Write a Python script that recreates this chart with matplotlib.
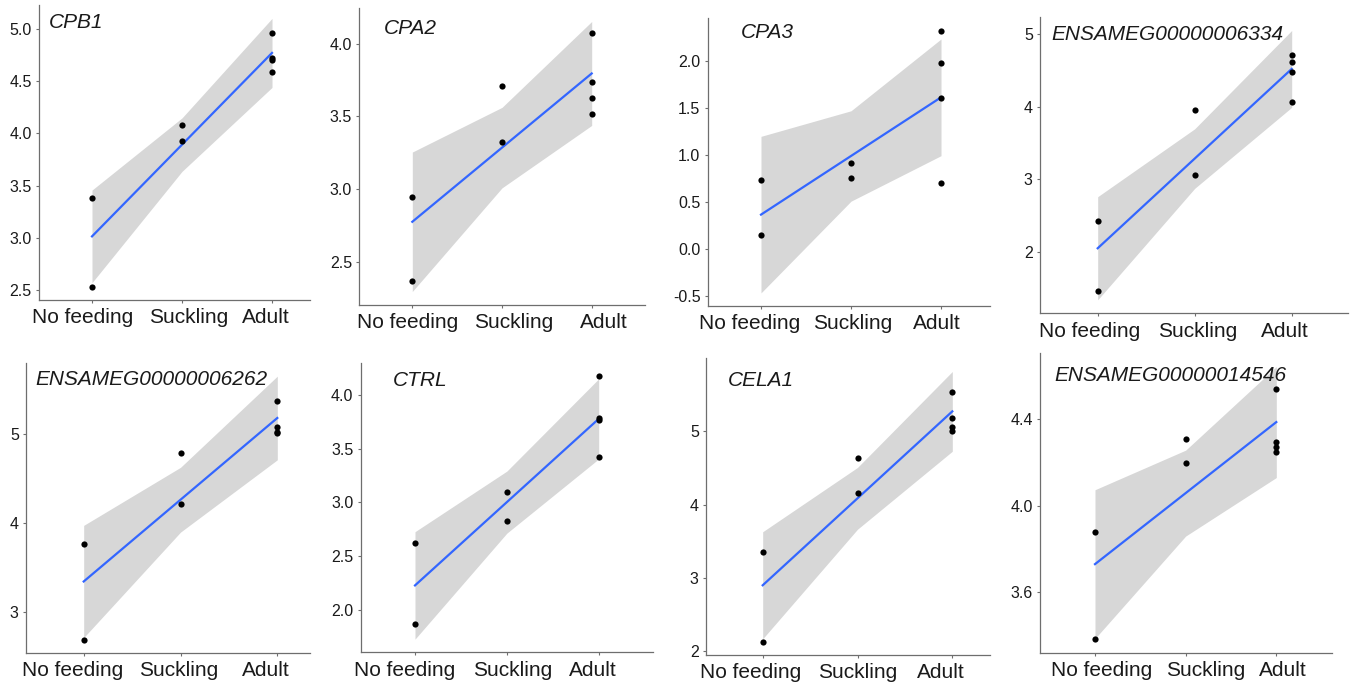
import numpy as np
import matplotlib
matplotlib.use("Agg")
import matplotlib.pyplot as plt
from matplotlib.transforms import ScaledTranslation

plt.rcParams['font.family'] = ['Liberation Sans', 'DejaVu Sans']

# ---------------- data ----------------
groups = ["No feeding", "Suckling", "Adult"]
genes = ["CPB1", "CPA2", "CPA3", "ENSAMEG00000006334",
         "ENSAMEG00000006262", "CTRL", "CELA1", "ENSAMEG00000014546"]

# group index of each sample (1 = No feeding, 2 = Suckling, 3 = Adult)
sample_group = [1, 1, 2, 2, 3, 3, 3, 3]

cpb1 = [3.385, 2.535, 4.080, 3.927, 4.962, 4.720, 4.700, 4.589]
cpa2 = [2.950, 2.374, 3.709, 3.326, 4.071, 3.736, 3.624, 3.516]
cpa3 = [0.729, 0.148, 0.915, 0.757, 2.313, 1.975, 1.599, 0.700]
ens6334 = [2.426, 1.455, 3.950, 3.060, 4.707, 4.615, 4.478, 4.069]
ens6262 = [3.760, 2.689, 4.786, 4.210, 5.371, 5.083, 5.030, 5.010]
ctrl = [2.624, 1.867, 3.099, 2.827, 4.173, 3.786, 3.762, 3.420]
cela1 = [3.354, 2.132, 4.641, 4.159, 5.540, 5.177, 5.064, 5.000]
ens14546 = [3.881, 3.384, 4.311, 4.200, 4.539, 4.297, 4.271, 4.248]

values = [cpb1, cpa2, cpa3, ens6334, ens6262, ctrl, cela1, ens14546]

ytick_labels = [
    ["2.5", "3.0", "3.5", "4.0", "4.5", "5.0"],
    ["2.5", "3.0", "3.5", "4.0"],
    ["-0.5", "0.0", "0.5", "1.0", "1.5", "2.0"],
    ["2", "3", "4", "5"],
    ["3", "4", "5"],
    ["2.0", "2.5", "3.0", "3.5", "4.0"],
    ["2", "3", "4", "5"],
    ["3.6", "4.0", "4.4"],
]

# two-sided 95% t quantiles by residual degrees of freedom
T975 = {3: 3.182, 4: 2.776, 5: 2.571, 6: 2.447, 7: 2.365, 8: 2.306}

# ---------------- layout (pixels) ----------------
W, H = 1353, 687
# axis-left, first tick, last tick, axis-right, axis-bottom, axis-top
panel_px = [
    (39.0, 92.0, 272.0, 310.0, 300.0, 5.0),
    (359.3, 412.3, 591.7, 645.0, 305.0, 8.0),
    (707.7, 761.0, 941.0, 990.0, 306.0, 18.0),
    (1040.0, 1097.7, 1291.7, 1348.0, 313.3, 17.0),
    (26.0, 83.7, 277.3, 310.0, 652.7, 363.0),
    (360.7, 415.0, 598.7, 653.0, 652.3, 363.0),
    (706.0, 762.7, 952.3, 990.0, 655.0, 358.0),
    (1040.0, 1095.0, 1276.3, 1331.7, 652.7, 353.0),
]
# horizontal shift of each x tick label relative to its tick (pixels)
xlabel_dx = [
    (-9.5, 6.8, -6.2),
    (-5.0, 11.8, 11.7),
    (-11.8, 1.2, -4.3),
    (-8.0, 2.5, -7.0),
    (-11.5, -1.5, -11.1),
    (-10.8, 5.5, -5.4),
    (-12.4, 0.0, -11.1),
    (6.2, 20.2, 6.4),
]
# title left x and baseline y (pixels)
title_px = [
    (49, 28.3), (384, 34), (741, 37.7), (1051, 40),
    (35, 385), (393, 385.7), (728, 386), (1054, 381),
]

AXCOL = '#6e6e6e'
TXTCOL = '#1a1a1a'

fig = plt.figure(figsize=(W / 100, H / 100), dpi=100)

for i, gene in enumerate(genes):
    x = np.array(sample_group, dtype=float)
    y = np.array(values[i], dtype=float)
    n = len(x)

    # linear model fit with 95% confidence band (evaluated at the 3 levels)
    slope, intercept = np.polyfit(x, y, 1)
    resid = y - (intercept + slope * x)
    s = np.sqrt(np.sum(resid ** 2) / (n - 2))
    xm = x.mean()
    sxx = np.sum((x - xm) ** 2)
    xs = np.array([1.0, 2.0, 3.0])
    fit = intercept + slope * xs
    se = s * np.sqrt(1.0 / n + (xs - xm) ** 2 / sxx)
    tq = T975[n - 2]
    lo, hi = fit - tq * se, fit + tq * se

    # ggplot-like y limits (5% expansion of data incl. band)
    ymin = min(y.min(), lo.min())
    ymax = max(y.max(), hi.max())
    pad = 0.05 * (ymax - ymin)
    ylim = (ymin - pad, ymax + pad)

    l, t1, t3, r, b, tp = panel_px[i]
    unit = (t3 - t1) / 2.0
    xlim = (1 - (t1 - l) / unit, 1 + (r - t1) / unit)

    ax = fig.add_axes([l / W, 1 - b / H, (r - l) / W, (b - tp) / H])
    ax.fill_between(xs, lo, hi, color='#d7d7d7', linewidth=0, zorder=1)
    ax.plot(xs, fit, color='#3366FF', lw=1.6, zorder=2)
    ax.scatter(x, y, s=20, color='black', zorder=3, linewidths=0)

    ax.set_xlim(*xlim)
    ax.set_ylim(*ylim)
    ax.set_xticks([1, 2, 3])
    ax.set_xticklabels(groups)
    yt = [float(v) for v in ytick_labels[i]]
    ax.set_yticks(yt)
    ax.set_yticklabels(ytick_labels[i])

    for side in ('top', 'right'):
        ax.spines[side].set_visible(False)
    for side in ('left', 'bottom'):
        ax.spines[side].set_color(AXCOL)
        ax.spines[side].set_linewidth(0.9)
    ax.tick_params(axis='x', length=2.5, width=0.8, color=AXCOL,
                   labelsize=15, labelcolor=TXTCOL, pad=3.5)
    ax.tick_params(axis='y', length=2.2, width=0.8, color=AXCOL,
                   labelsize=11.5, labelcolor=TXTCOL, pad=3)
    ax.set_facecolor('none')

    for lab, dx in zip(ax.get_xticklabels(), xlabel_dx[i]):
        lab.set_transform(lab.get_transform() +
                          ScaledTranslation(dx / 100.0, 0, fig.dpi_scale_trans))

    tx, ty = title_px[i]
    fig.text(tx / W, 1 - ty / H, gene, fontsize=15, fontstyle='italic',
             color=TXTCOL, ha='left', va='baseline')

fig.savefig('out.png', dpi=100, facecolor='white')
